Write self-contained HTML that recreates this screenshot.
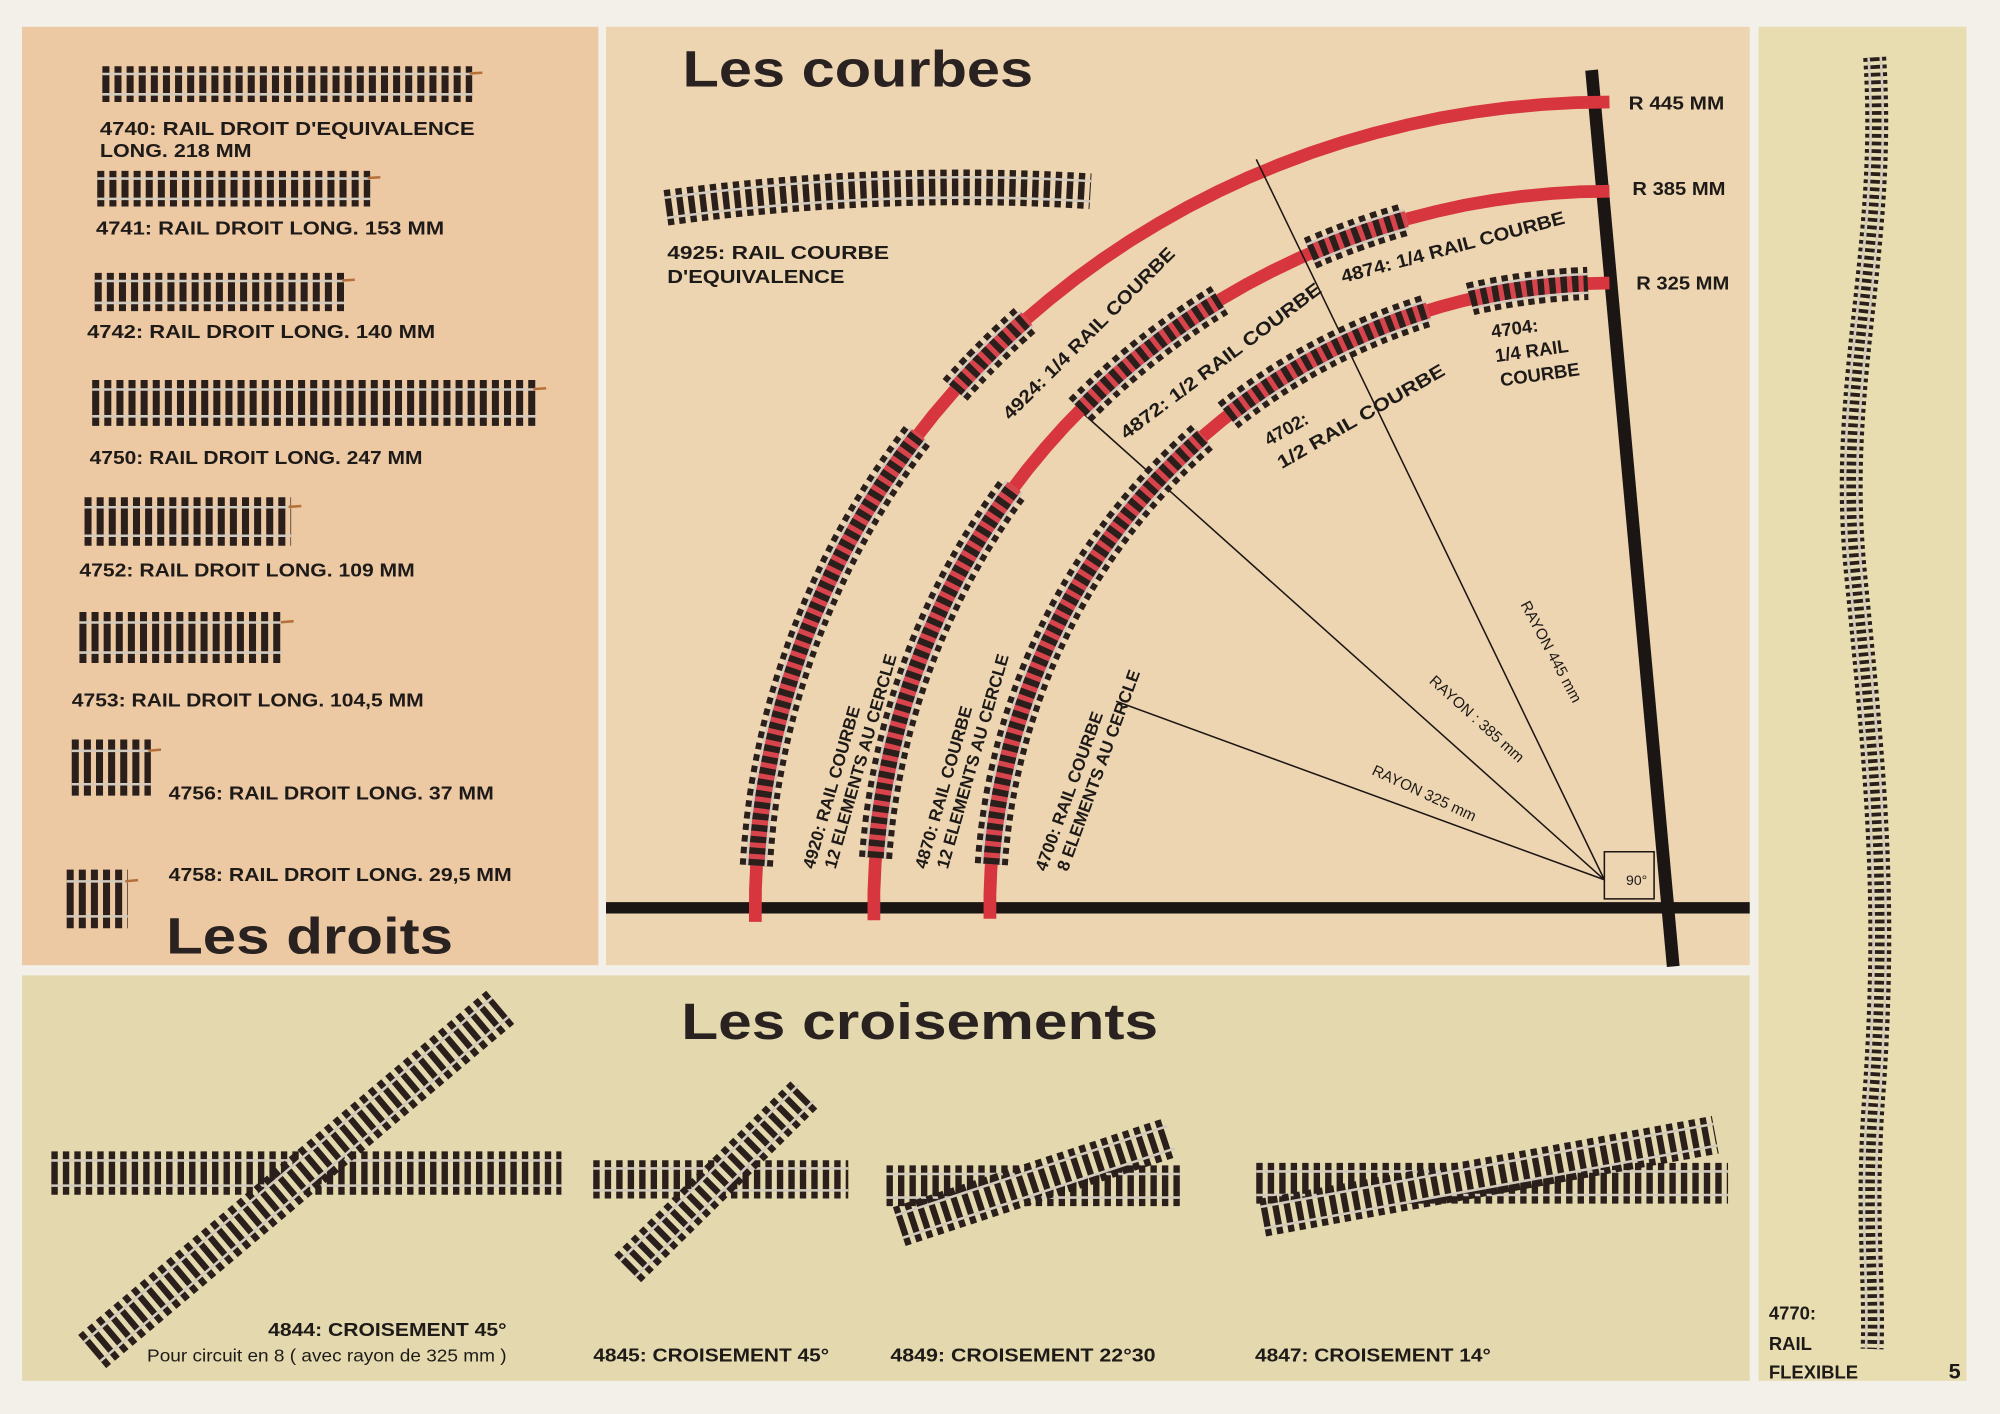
<!DOCTYPE html>
<html><head><meta charset="utf-8">
<style>
html,body{margin:0;padding:0;background:#f3f0ea;}
svg{display:block;}
text{font-family:"Liberation Sans",sans-serif;fill:#1e1a18;}
.l{font-size:14.5px;font-weight:bold;}
.t{font-size:40px;font-weight:bold;fill:#2a2220;}
</style></head>
<body>
<svg id="s" width="2000" height="1414" viewBox="0 0 1568 1109" xmlns="http://www.w3.org/2000/svg">
<rect width="1568" height="1109" fill="#f3f0ea"/>
<rect x="17" y="21" width="452" height="736" fill="#ecc8a3"/>
<rect x="475" y="21" width="897" height="736" fill="#edd5b1"/>
<rect x="1379" y="21" width="163" height="1062" fill="#e7ddb0"/>
<rect x="17" y="765" width="1355" height="318" fill="#e4d9ae"/>
<g id="g"></g>
<g id="txt">
<text class="t" x="535" y="68" textLength="275" lengthAdjust="spacingAndGlyphs">Les courbes</text>
<text class="t" x="130" y="748" textLength="225" lengthAdjust="spacingAndGlyphs">Les droits</text>
<text class="t" x="534" y="815" textLength="374" lengthAdjust="spacingAndGlyphs">Les croisements</text>
<text class="l" x="78" y="106" textLength="294" lengthAdjust="spacingAndGlyphs">4740: RAIL DROIT D'EQUIVALENCE</text>
<text class="l" x="78" y="123" textLength="119" lengthAdjust="spacingAndGlyphs">LONG. 218 MM</text>
<text class="l" x="75" y="184" textLength="273" lengthAdjust="spacingAndGlyphs">4741: RAIL DROIT LONG. 153 MM</text>
<text class="l" x="68" y="265" textLength="273" lengthAdjust="spacingAndGlyphs">4742: RAIL DROIT LONG. 140 MM</text>
<text class="l" x="70" y="364" textLength="261" lengthAdjust="spacingAndGlyphs">4750: RAIL DROIT LONG. 247 MM</text>
<text class="l" x="62" y="452" textLength="263" lengthAdjust="spacingAndGlyphs">4752: RAIL DROIT LONG. 109 MM</text>
<text class="l" x="56" y="554" textLength="276" lengthAdjust="spacingAndGlyphs">4753: RAIL DROIT LONG. 104,5 MM</text>
<text class="l" x="132" y="627" textLength="255" lengthAdjust="spacingAndGlyphs">4756: RAIL DROIT LONG. 37 MM</text>
<text class="l" x="132" y="691" textLength="269" lengthAdjust="spacingAndGlyphs">4758: RAIL DROIT LONG. 29,5 MM</text>
<text class="l" x="523" y="203" textLength="174" lengthAdjust="spacingAndGlyphs">4925: RAIL COURBE</text>
<text class="l" x="523" y="222" textLength="139" lengthAdjust="spacingAndGlyphs">D'EQUIVALENCE</text>
<text class="l" x="1277" y="86" textLength="75" lengthAdjust="spacingAndGlyphs">R 445 MM</text>
<text class="l" x="1280" y="153" textLength="73" lengthAdjust="spacingAndGlyphs">R 385 MM</text>
<text class="l" x="1283" y="227" textLength="73" lengthAdjust="spacingAndGlyphs">R 325 MM</text>
<text class="l" style="font-size:13.5px" transform="translate(638,682) rotate(-74)">4920: RAIL COURBE</text>
<text class="l" style="font-size:13.5px" transform="translate(655,682) rotate(-74)">12 ELEMENTS AU CERCLE</text>
<text class="l" style="font-size:13.5px" transform="translate(726,682) rotate(-74)">4870: RAIL COURBE</text>
<text class="l" style="font-size:13.5px" transform="translate(743,682) rotate(-74)">12 ELEMENTS AU CERCLE</text>
<text class="l" style="font-size:13.5px" transform="translate(820,684) rotate(-70)">4700: RAIL COURBE</text>
<text class="l" style="font-size:13.5px" transform="translate(837,684) rotate(-70)">8 ELEMENTS AU CERCLE</text>
<text class="l" transform="translate(792,330) rotate(-45)" textLength="184" lengthAdjust="spacingAndGlyphs">4924: 1/4 RAIL COURBE</text>
<text class="l" transform="translate(883,345) rotate(-37)" textLength="193" lengthAdjust="spacingAndGlyphs">4872: 1/2 RAIL COURBE</text>
<text class="l" transform="translate(1053,222) rotate(-15)" textLength="181" lengthAdjust="spacingAndGlyphs">4874: 1/4 RAIL COURBE</text>
<text class="l" transform="translate(995,350) rotate(-30)">4702:</text>
<text class="l" transform="translate(1005,368) rotate(-30)" textLength="149" lengthAdjust="spacingAndGlyphs">1/2 RAIL COURBE</text>
<text class="l" transform="translate(1170,265) rotate(-8)">4704:</text>
<text class="l" transform="translate(1173,284) rotate(-8)">1/4 RAIL</text>
<text class="l" transform="translate(1177,303) rotate(-8)">COURBE</text>
<text style="font-size:12px" transform="translate(1192,474) rotate(62)">RAYON 445 mm</text>
<text style="font-size:12px" transform="translate(1120,535) rotate(42)">RAYON : 385 mm</text>
<text style="font-size:12px" transform="translate(1075,607) rotate(25)">RAYON 325 mm</text>
<text x="1275" y="694" style="font-size:11px">90°</text>
<text class="l" x="210" y="1048" textLength="187" lengthAdjust="spacingAndGlyphs">4844: CROISEMENT 45°</text>
<text style="font-size:14px" x="115" y="1068" textLength="282" lengthAdjust="spacingAndGlyphs">Pour circuit en 8 ( avec rayon de 325 mm )</text>
<text class="l" x="465" y="1068" textLength="185" lengthAdjust="spacingAndGlyphs">4845: CROISEMENT 45°</text>
<text class="l" x="698" y="1068" textLength="208" lengthAdjust="spacingAndGlyphs">4849: CROISEMENT  22°30</text>
<text class="l" x="984" y="1068" textLength="185" lengthAdjust="spacingAndGlyphs">4847: CROISEMENT 14°</text>
<text class="l" x="1387" y="1035">4770:</text>
<text class="l" x="1387" y="1059">RAIL</text>
<text class="l" x="1387" y="1081">FLEXIBLE</text>
<text class="l" style="font-size:17px" x="1528" y="1081">5</text>
</g>
</svg>
<script>
var NS="http://www.w3.org/2000/svg",G=document.getElementById('g');
function P(d,st){var p=document.createElementNS(NS,'path');p.setAttribute('d',d);p.setAttribute('fill','none');for(var k in st)p.setAttribute(k,st[k]);G.appendChild(p);return p;}
function L(x1,y1,x2,y2,c,w){P('M'+x1+' '+y1+'L'+x2+' '+y2,{stroke:c,'stroke-width':w});}
var TIE='#2a1f1b',RAIL='#d2cabd';
function track(d,w,bg,dash){dash=dash||'5 4';
 P(d,{stroke:TIE,'stroke-width':w,'stroke-dasharray':dash});
 P(d,{stroke:RAIL,'stroke-width':w*0.64});
 P(d,{stroke:bg,'stroke-width':w*0.64-4});
 P(d,{stroke:TIE,'stroke-width':w*0.64-4,'stroke-dasharray':dash});
}
function arc(cx,cy,rx,ry,a0,a1){var s='';for(var i=0;i<=40;i++){var t=(a0+(a1-a0)*i/40)*Math.PI/180;s+=(i?'L':'M')+(cx-rx*Math.cos(t)).toFixed(1)+' '+(cy-ry*Math.sin(t)).toFixed(1);}return s;}
var LB='#ecc8a3';
function st(x1,x2,y,w){track('M'+x1+' '+y+'L'+x2+' '+y,w,LB,'5.5 4');L(x2-2,y-w*0.3,x2+8,y-w*0.32,'#b5703a',2);}
st(80,370,66,28);st(76,290,148,28);st(74,270,229,30);st(72,420,316,36);st(66,228,409,38);st(62,222,500,40);st(56,118,602,44);st(52,100,705,46);
L(475,712,1372,712,'#1b1513',9);
P('M1248 55L1312 758',{stroke:'#1b1513','stroke-width':10});
[[670,632],[577,562],[486,490]].forEach(function(c){P(arc(1262,712,c[0],c[1],-1,90),{stroke:'#d7363f','stroke-width':10});});
L(1258,690,985,125,'#1b1513',1.2);L(1258,690,850,325,'#1b1513',1.2);L(1258,690,875,550,'#1b1513',1.2);
P('M1258 668H1297V705H1258Z',{stroke:'#1b1513','stroke-width':1.2});
var RB='#d8444c';
track(arc(1262,712,670,632,3,36),26,RB);track(arc(1262,712,670,632,40,47),26,RB);
track(arc(1262,712,577,562,4,36),26,RB);track(arc(1262,712,577,562,44,58),26,RB);track(arc(1262,712,577,562,66,74),26,RB);
track(arc(1262,712,486,490,4,49),26,RB);track(arc(1262,712,486,490,52,73),26,RB);track(arc(1262,712,486,490,77,88),26,RB);
track('M522 163Q690 140 855 150',28,'#edd5b1');
var CB='#e4d9ae';
track('M40 920L440 920',34,CB);track('M72 1060L392 790',34,CB);
track('M465 925L665 925',30,CB);track('M492 995L632 857',30,CB);
track('M695 930L925 930',32,CB);track('M705 962L918 892',32,CB);
track('M985 928L1355 928',32,CB);track('M990 955L1345 890',30,CB);
track('M1470 45C1480 200 1440 300 1455 450C1470 600 1480 700 1470 850C1462 950 1470 1000 1468 1058',18,'#e7ddb0','3 3');
</script>
</body></html>
